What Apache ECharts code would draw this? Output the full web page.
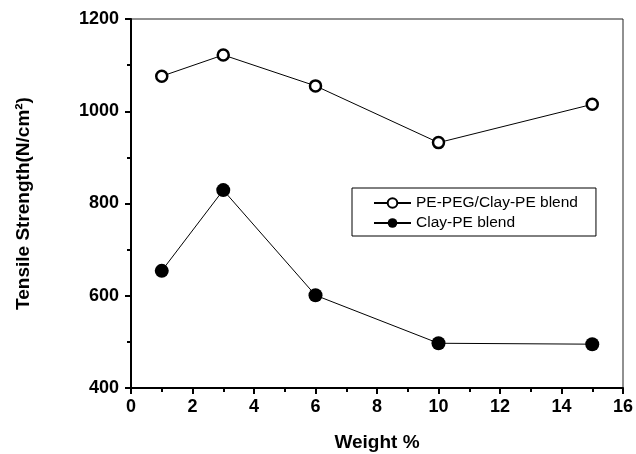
<!DOCTYPE html>
<html>
<head>
<meta charset="utf-8">
<script src="https://cdn.jsdelivr.net/npm/echarts@6/dist/echarts.min.js"></script>
<style>
  html, body { margin: 0; padding: 0; background: #fff; }
  #chart { width: 636px; height: 454px; }
</style>
</head>
<body>
<div id="chart"></div>
<script>
// Tensile strength vs. filler weight fraction for two blend types
const weightPct = [1, 3, 6, 10, 15];
const pegClayPeBlend = [1076, 1122, 1055, 932, 1015];
const clayPeBlend = [654, 829, 601, 497, 495];
const seriesNames = ['PE-PEG/Clay-PE blend', 'Clay-PE blend'];

const FONT = '"Liberation Sans", Arial, sans-serif';

const chart = echarts.init(document.getElementById('chart'), null, { renderer: 'canvas' });

function pairs(xs, ys) {
  return xs.map((x, i) => [x, ys[i]]);
}

const axisCommon = {
  axisLine: { show: true, lineStyle: { color: '#000', width: 2 } },
  axisTick: { show: true, inside: false, length: 6, lineStyle: { color: '#000', width: 2 } },
  minorTick: { show: true, splitNumber: 2, length: 4, lineStyle: { color: '#000', width: 2 } },
  splitLine: { show: false },
  minorSplitLine: { show: false },
  axisLabel: {
    color: '#000', fontSize: 18, fontWeight: 'bold', fontFamily: FONT,
    formatter: v => String(v)
  },
  nameTextStyle: { color: '#000', fontSize: 19, fontWeight: 'bold', fontFamily: FONT }
};

chart.setOption({
  animation: false,
  backgroundColor: '#fff',
  grid: {
    left: 131, right: 13, top: 19, bottom: 66,
    outerBoundsMode: 'none',
    containLabel: false,
    show: true, borderColor: '#222', borderWidth: 1, backgroundColor: 'transparent'
  },
  legend: {
    orient: 'vertical',
    left: 352,
    top: 188,
    padding: [7, 18, 5, 21],
    itemGap: 4,
    itemWidth: 37,
    itemHeight: 12,
    borderColor: '#000',
    borderWidth: 1,
    textStyle: { color: '#000', fontSize: 15.5, fontFamily: FONT },
    data: seriesNames
  },
  xAxis: Object.assign({}, axisCommon, {
    type: 'value',
    min: 0, max: 16, interval: 2,
    name: 'Weight %',
    nameLocation: 'middle',
    nameGap: 45,
    axisLabel: Object.assign({}, axisCommon.axisLabel, { margin: 10 })
  }),
  yAxis: Object.assign({}, axisCommon, {
    type: 'value',
    min: 400, max: 1200, interval: 200,
    name: 'Tensile Strength(N/cm²)',
    nameLocation: 'middle',
    nameRotate: 90,
    nameGap: 98,
    axisLabel: Object.assign({}, axisCommon.axisLabel, { margin: 12 })
  }),
  series: [
    {
      name: seriesNames[0],
      type: 'line',
      data: pairs(weightPct, pegClayPeBlend),
      symbol: 'circle',
      symbolSize: 11,
      lineStyle: { color: '#000', width: 1 },
      itemStyle: { color: '#fff', borderColor: '#000', borderWidth: 2.5 },
      z: 3
    },
    {
      name: seriesNames[1],
      type: 'line',
      data: pairs(weightPct, clayPeBlend),
      symbol: 'circle',
      symbolSize: 14,
      lineStyle: { color: '#000', width: 1 },
      itemStyle: { color: '#000', borderColor: '#000', borderWidth: 0 },
      z: 3
    }
  ]
});
</script>
</body>
</html>
